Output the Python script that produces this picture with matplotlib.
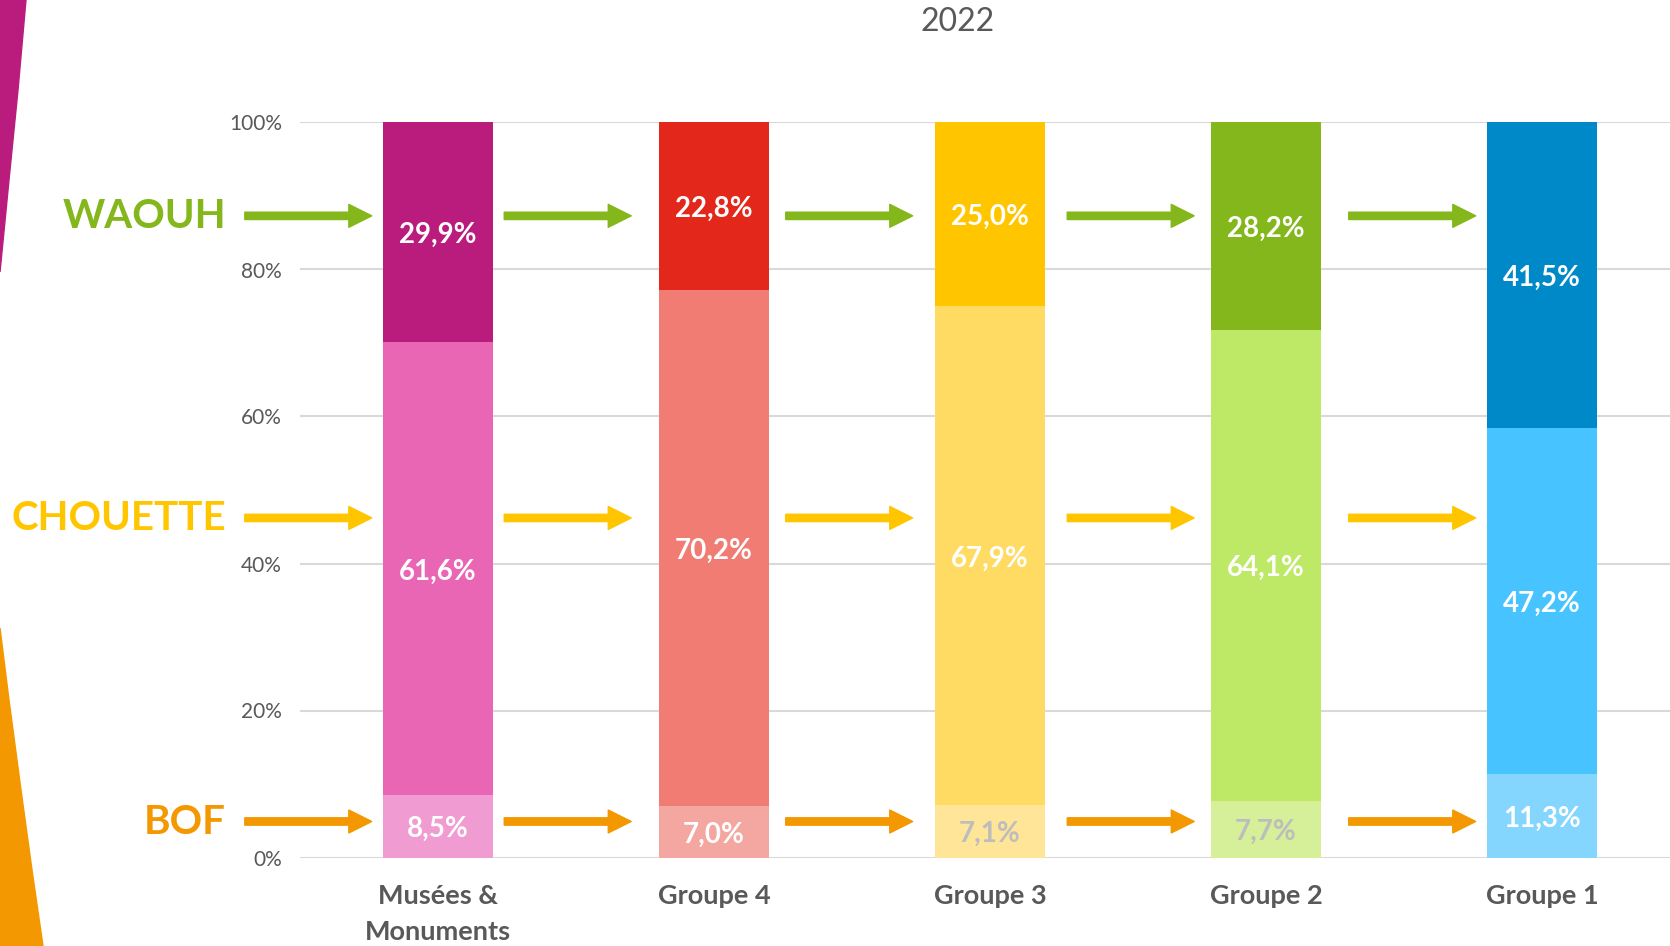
import matplotlib.pyplot as plt
import matplotlib.transforms as mtransforms
from matplotlib.patches import Polygon

plt.rcParams['font.family'] = ['Lato', 'DejaVu Sans']

# données
categories = ["Musées &\nMonuments", "Groupe 4", "Groupe 3", "Groupe 2", "Groupe 1"]
bof = [8.5, 7.0, 7.1, 7.7, 11.3]
chouette = [61.6, 70.2, 67.9, 64.1, 47.2]
waouh = [29.9, 22.8, 25.0, 28.2, 41.5]

# couleurs par groupe : (bof, chouette, waouh)
couleurs = [("#F09BD2", "#E966B5", "#BA1C7D"),
            ("#F4A7A1", "#F07C73", "#E3271A"),
            ("#FEE597", "#FFDB64", "#FFC600"),
            ("#D5F098", "#BDE966", "#83B71B"),
            ("#84D6FE", "#47C3FF", "#0089C9")]
coul_txt_bof = ["white", "white", "#BDBDBD", "#BDBDBD", "white"]

rangees = [("WAOUH", "#84B71B", 87.3), ("CHOUETTE", "#FFC600", 46.2), ("BOF", "#F39800", 4.9)]
debut_fleche = [-0.70, -0.76, -0.74, -0.72, -0.70]   # départ des flèches avant chaque barre

fig = plt.figure(figsize=(16.7, 9.46), dpi=100)
ax = fig.add_axes([300 / 1670, 88.5 / 946, 1370 / 1670, 735 / 946])

# décor à gauche (bandes magenta et orange)
H = 946.0
def fig_pts(pts):
    return [(x / 1670, 1 - y / H) for x, y in pts]
fig.patches.append(Polygon(fig_pts([(0, 0), (26, 0), (18, 90), (9, 180), (0, 272)]),
                           closed=True, transform=fig.transFigure, color="#BA1C7D", zorder=0))
fig.patches.append(Polygon(fig_pts([(0, 628), (9, 700), (21, 790), (32, 870), (43, 946), (0, 946)]),
                           closed=True, transform=fig.transFigure, color="#F39800", zorder=0))

x = list(range(len(categories)))
w = 0.4
for i in x:
    cb, cc, cw = couleurs[i]
    ax.bar(i, bof[i], w, color=cb, zorder=2)
    ax.bar(i, chouette[i], w, bottom=bof[i], color=cc, zorder=2)
    ax.bar(i, waouh[i], w, bottom=bof[i] + chouette[i], color=cw, zorder=2)
    for val, bas, col in [(bof[i], 0, coul_txt_bof[i]), (chouette[i], bof[i], "white"),
                          (waouh[i], bof[i] + chouette[i], "white")]:
        ax.text(i, bas + val / 2 - 0.4, ("%.1f%%" % val).replace(".", ","), ha="center", va="center",
                color=col, fontsize=20, fontweight="bold", zorder=3)

# flèches
for nom, col, yy in rangees:
    for i in x:
        d = debut_fleche[i]
        ax.annotate("", xy=(i + d + 0.46, yy), xytext=(i + d, yy),
                    arrowprops=dict(arrowstyle="simple,head_length=1.65,head_width=1.65,tail_width=0.53",
                                    color=col, shrinkA=0, shrinkB=0, mutation_scale=10), zorder=3)

trans = mtransforms.blended_transform_factory(fig.transFigure, ax.transData)
for nom, col, yy in rangees:
    ax.text(226 / 1670, yy - 0.1, nom, transform=trans, ha="right", va="center",
            color=col, fontsize=29, fontweight="bold", clip_on=False)

ax.set_xlim(-0.5, 4.464)
ax.set_ylim(0, 100)
ax.set_yticks([0, 20, 40, 60, 80, 100])
ax.set_yticklabels(["0%", "20%", "40%", "60%", "80%", "100%"])
ax.set_xticks(x)
ax.set_xticklabels(categories, fontsize=19.5, fontweight="bold", color="#595959", linespacing=1.6)
ax.tick_params(axis="y", length=0, pad=13, labelsize=15, labelcolor="#595959")
ax.tick_params(axis="x", length=0, pad=19)
ax.grid(axis="y", color="#D9D9D9", linewidth=1.5, zorder=0)
ax.set_axisbelow(True)
for s in ax.spines.values():
    s.set_visible(False)

fig.text(958 / 1670, 1 - 22 / H, "2022", ha="center", va="center", fontsize=23, color="#595959")

fig.savefig("out.png", dpi=100)
